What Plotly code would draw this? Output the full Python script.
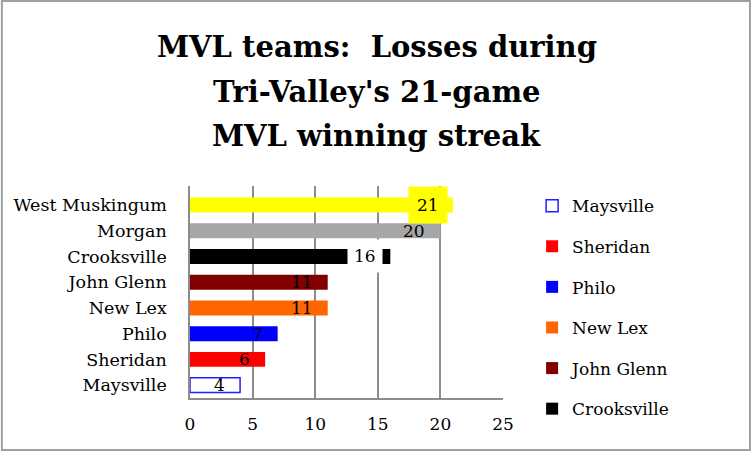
import plotly.graph_objects as go

# Data (bottom to top)
teams = ["Maysville", "Sheridan", "Philo", "New Lex", "John Glenn",
         "Crooksville", "Morgan", "West Muskingum"]
losses = [4, 6, 7, 11, 11, 16, 20, 21]
bar_colors = ["#FFFFFF", "#FF0000", "#0000FF", "#FF6600", "#800000",
              "#000000", "#A6A6A6", "#FFFF00"]
in_legend = [True, True, True, True, True, True, False, False]
label_bg = [None, None, None, None, None, "#FFFFFF", None, "#FFFF00"]

title_lines = ["MVL teams:  Losses during", "Tri-Valley's 21-game", "MVL winning streak"]

serif = "DejaVu Serif"

fig = go.Figure()

for team, val, col, leg in zip(teams, losses, bar_colors, in_legend):
    hollow = team == "Maysville"
    fig.add_trace(go.Bar(
        name=team,
        y=[team],
        x=[val],
        orientation="h",
        width=0.58,
        marker=dict(color=col,
                    line=dict(color="#1F1FFF" if hollow else col, width=1.5 if hollow else 0)),
        showlegend=leg,
        legendgroup=team,
        hoverinfo="x+y",
    ))

# data labels near the bar ends
for team, val, bg in zip(teams, losses, label_bg):
    pad = 0
    shift = -14
    if bg == "#FFFF00":
        pad, shift = 8, -5
    elif bg:
        pad, shift = 6, -7
    fig.add_annotation(
        x=val, y=team, text=str(val),
        xanchor="right", yanchor="middle", xshift=shift,
        showarrow=False,
        font=dict(family=serif, size=17, color="black"),
        bgcolor=bg if bg else "rgba(0,0,0,0)",
        borderpad=pad,
    )

# title, one line per annotation to get the wider line spacing
for line, ty in zip(title_lines, [1.656, 1.443, 1.236]):
    fig.add_annotation(
        x=0.596, y=ty, xref="paper", yref="paper", text=line,
        xanchor="center", yanchor="middle", showarrow=False,
        font=dict(family=serif, size=29, color="black", weight="bold"),
    )

# outer frame of the chart
fig.add_shape(type="rect", xref="paper", yref="paper",
              x0=-0.601, x1=1.789, y0=-0.245, y1=1.873,
              line=dict(color="#A0A0A0", width=2), fillcolor="rgba(0,0,0,0)",
              layer="below")

fig.update_layout(
    width=753, height=452,
    margin=dict(l=190, r=250, t=186, b=54),
    paper_bgcolor="white",
    plot_bgcolor="white",
    barmode="relative",
    xaxis=dict(
        range=[0, 25], dtick=5, showgrid=True, gridcolor="#8C8C8C", gridwidth=1.5,
        showline=True, linecolor="#8C8C8C", linewidth=1.5, zeroline=False,
        tickfont=dict(family=serif, size=17, color="black"),
        ticklabelstandoff=10, fixedrange=True,
    ),
    yaxis=dict(
        categoryorder="array", categoryarray=teams,
        showline=True, linecolor="#8C8C8C", linewidth=1.5, showgrid=False,
        tickfont=dict(family=serif, size=17.5, color="black"),
        ticklabelstandoff=18, fixedrange=True,
    ),
    legend=dict(
        x=1.093, xanchor="left", y=0.99, yanchor="top",
        font=dict(family=serif, size=17, color="black"),
        traceorder="grouped", tracegroupgap=15.5,
        itemwidth=30, bgcolor="rgba(0,0,0,0)", maxheight=320,
    ),
)

fig.write_html("out.html", config={"displayModeBar": False},
               post_script="document.body.style.margin='0';")
